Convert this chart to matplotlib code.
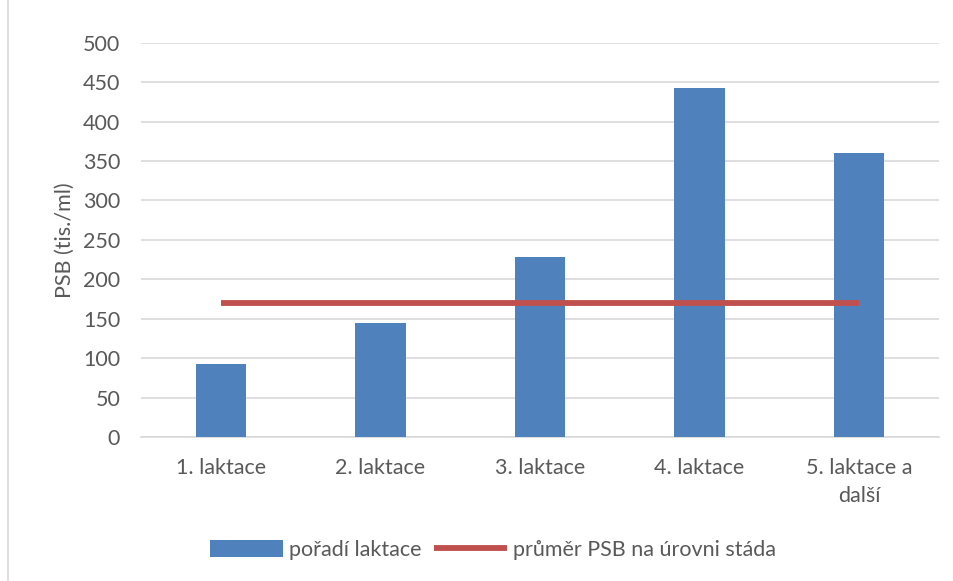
import matplotlib.pyplot as plt
from matplotlib.patches import Rectangle

plt.rcParams['font.family'] = ['Lato', 'DejaVu Sans']

categories = ['1. laktace', '2. laktace', '3. laktace', '4. laktace', '5. laktace a\ndalší']
psb = [92, 145, 228, 442, 360]
herd_mean = [170, 170, 170, 170, 170]

W, H = 954, 581
fig = plt.figure(figsize=(W / 100, H / 100), dpi=100)
ax = fig.add_axes([141 / W, 1 - 437 / H, (939 - 141) / W, (437 - 42.7) / H])

grey = '#595959'
blue = '#4f81bd'
red = '#c0504d'
fs = 15.5

x = range(len(categories))
bars = ax.bar(x, psb, width=0.315, color=blue, zorder=3, label='pořadí laktace')
line, = ax.plot(x, herd_mean, color=red, lw=4.2, zorder=4, solid_capstyle='butt',
                label='průměr PSB na úrovni stáda')

ax.set_xlim(-0.5, 4.5)
ax.set_ylim(0, 500)
ax.set_yticks(range(0, 501, 50))
ax.set_xticks(list(x))
ax.set_xticklabels(categories, fontsize=fs, color=grey, linespacing=1.5)
ax.tick_params(axis='y', labelsize=fs, colors=grey, length=0, pad=15)
ax.tick_params(axis='x', length=0, pad=15)
ax.grid(axis='y', color='#d9d9d9', lw=1.2, zorder=0)
for s in ['top', 'right', 'left']:
    ax.spines[s].set_visible(False)
ax.spines['bottom'].set_color('#d9d9d9')
ax.spines['bottom'].set_linewidth(1.2)
ax.set_ylabel('PSB (tis./ml)', fontsize=fs, color=grey, labelpad=6)

fig.legend(handles=[bars, line], loc='center', bbox_to_anchor=(0.5 + 16 / W, 1 - 550 / H),
           ncol=2, frameon=False, fontsize=fs, labelcolor=grey, handlelength=3.4,
           handleheight=0.8, columnspacing=0.6, handletextpad=0.25)

fig.patches.append(Rectangle((8 / W, -0.1), 2, 2, transform=fig.transFigure,
                             fill=False, edgecolor='#d9d9d9', lw=1.2))

fig.savefig('out.png', dpi=100)
